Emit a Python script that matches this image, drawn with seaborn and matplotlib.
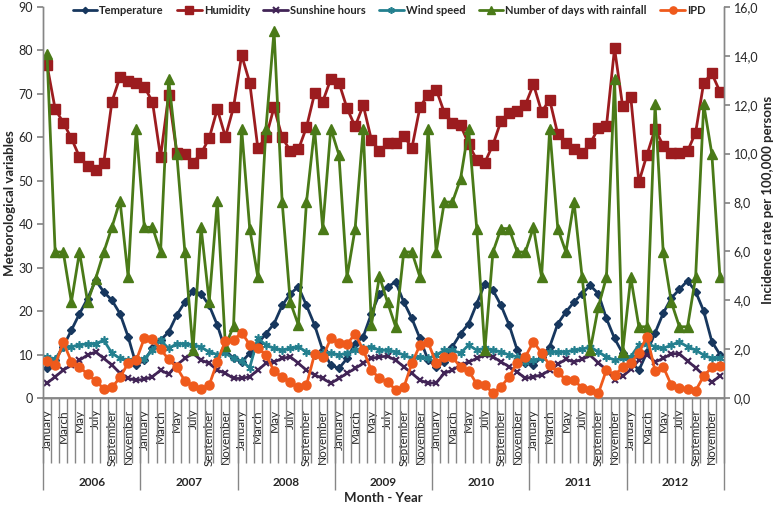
import numpy as np
import pandas as pd
import matplotlib
matplotlib.use("Agg")
import matplotlib.pyplot as plt
import seaborn as sns

# ---- data (monthly, 2006-2012) ----
years = ["2006", "2007", "2008", "2009", "2010", "2011", "2012"]
month_names = ["January", "February", "March", "April", "May", "June",
               "July", "August", "September", "October", "November", "December"]

temperature = [
    6.8, 8.7, 11.8, 15.6, 19.4, 22.9, 27.1, 24.4, 22.5, 19.4, 14.1, 7.6,
    8.7, 11.4, 13.3, 15.2, 19.1, 22.1, 24.6, 24.0, 21.3, 16.8, 11.0, 9.1,
    8.3, 10.3, 12.5, 14.8, 17.1, 21.3, 24.0, 25.6, 21.3, 16.8, 11.0, 7.6,
    6.8, 9.1, 12.5, 14.1, 19.4, 24.0, 25.6, 26.7, 22.1, 18.3, 13.7, 8.7,
    7.2, 8.3, 11.8, 14.8, 17.1, 21.7, 26.3, 24.8, 21.3, 16.8, 11.0, 8.0,
    7.6, 9.5, 11.8, 17.1, 19.8, 22.1, 24.0, 25.9, 24.0, 18.3, 13.7, 10.3,
    8.5, 6.4, 10.5, 15.0, 19.5, 23.0, 25.0, 27.0, 24.5, 20.0, 13.0, 10.0,
]
humidity = [
    76.6, 66.5, 63.4, 59.8, 55.5, 53.5, 52.5, 54.2, 68.2, 73.9, 73.0, 72.4,
    71.6, 68.2, 55.5, 69.8, 56.5, 56.2, 54.2, 56.3, 59.8, 66.5, 60.1, 66.9,
    78.9, 72.6, 57.5, 60.0, 66.9, 60.0, 56.9, 57.2, 62.3, 70.1, 68.2, 73.4,
    72.6, 66.7, 62.5, 67.4, 59.5, 56.8, 58.6, 58.8, 60.4, 57.5, 67.0, 69.8,
    71.0, 65.7, 63.4, 62.8, 58.5, 54.8, 54.2, 58.3, 63.8, 65.7, 66.1, 67.5,
    72.2, 65.9, 68.6, 60.7, 58.8, 57.3, 56.3, 58.6, 62.1, 62.6, 80.5, 67.1,
    69.3, 49.7, 56.0, 61.9, 58.1, 56.3, 56.5, 56.8, 61.1, 72.6, 74.7, 70.5,
]
sunshine = [
    3.4, 4.9, 6.4, 7.6, 8.7, 9.9, 10.6, 9.1, 7.6, 5.7, 4.5, 4.1,
    4.3, 4.9, 6.4, 5.5, 7.6, 9.1, 10.3, 8.7, 8.0, 6.4, 5.7, 4.5,
    4.5, 4.9, 6.4, 8.0, 8.3, 9.1, 9.5, 8.0, 6.4, 5.3, 4.5, 3.4,
    4.5, 5.7, 6.8, 8.0, 9.1, 9.5, 9.6, 8.7, 7.2, 5.7, 4.1, 3.4,
    3.5, 5.7, 6.4, 7.6, 8.3, 9.1, 9.9, 9.5, 8.3, 7.2, 6.0, 4.5,
    4.9, 5.3, 6.4, 7.8, 8.9, 8.3, 8.9, 9.8, 8.1, 6.5, 4.2, 5.0,
    6.6, 8.7, 10.0, 8.3, 9.1, 10.2, 10.2, 8.5, 7.0, 5.2, 3.6, 5.1,
]
wind_speed = [
    9.5, 8.9, 11.8, 11.8, 12.2, 12.5, 12.5, 13.3, 10.3, 9.1, 8.7, 8.9,
    9.0, 11.0, 13.3, 11.4, 12.5, 12.5, 12.2, 11.7, 10.6, 10.0, 10.3, 9.1,
    8.5, 7.0, 13.7, 12.2, 11.4, 11.0, 11.4, 11.8, 10.6, 9.9, 10.3, 10.3,
    9.9, 10.3, 11.0, 11.4, 11.8, 11.0, 11.0, 10.6, 9.9, 9.1, 9.5, 9.1,
    9.9, 11.0, 11.0, 10.3, 12.2, 11.0, 11.4, 11.0, 10.6, 9.9, 9.5, 8.3,
    8.7, 9.1, 10.6, 10.6, 10.6, 11.0, 11.2, 11.8, 10.6, 9.5, 8.7, 9.1,
    9.5, 12.2, 12.5, 11.8, 11.4, 12.2, 12.9, 11.8, 11.0, 9.9, 9.1, 9.1,
]
rainfall_days = [
    79.1, 33.6, 33.6, 22.1, 33.6, 22.1, 27.5, 33.6, 39.3, 45.4, 27.9, 61.9,
    39.3, 39.3, 33.6, 73.4, 56.2, 33.6, 11.0, 39.3, 22.1, 45.4, 12.0, 16.5,
    62.0, 39.0, 27.8, 62.0, 84.5, 45.1, 22.1, 16.8, 45.1, 62.0, 39.0, 62.0,
    56.0, 27.8, 39.0, 62.0, 16.8, 28.0, 22.0, 16.4, 33.6, 33.6, 27.8, 62.0,
    33.6, 45.1, 45.1, 50.4, 62.0, 39.0, 11.0, 33.6, 39.0, 39.0, 33.6, 33.6,
    39.3, 27.8, 62.0, 39.0, 33.6, 45.1, 27.8, 11.0, 21.0, 27.8, 73.4, 10.6,
    27.8, 16.4, 16.4, 67.6, 33.6, 22.1, 16.4, 16.4, 27.8, 67.6, 56.2, 27.8,
]
ipd = [
    1.52, 1.35, 2.28, 1.49, 1.28, 0.97, 0.70, 0.38, 0.43, 0.84, 1.43, 1.54,
    2.45, 2.40, 2.00, 1.58, 1.25, 0.70, 0.50, 0.38, 0.53, 1.48, 2.34, 2.37,
    2.68, 2.18, 2.03, 1.78, 1.10, 0.85, 0.65, 0.43, 0.53, 1.80, 1.67, 2.44,
    2.24, 2.20, 2.63, 1.96, 1.15, 0.80, 0.67, 0.33, 0.43, 1.42, 2.17, 2.28,
    1.42, 1.69, 1.69, 1.25, 1.12, 0.57, 0.53, 0.20, 0.46, 0.87, 1.45, 1.69,
    2.31, 1.83, 1.35, 1.06, 0.74, 0.74, 0.40, 0.33, 0.19, 1.15, 0.94, 1.25,
    1.42, 1.86, 2.51, 1.12, 1.28, 0.53, 0.40, 0.36, 0.30, 0.90, 1.25, 1.32,
]

n = len(years) * 12
df = pd.DataFrame({
    "idx": np.arange(n),
    "Temperature": temperature,
    "Humidity": humidity,
    "Sunshine hours": sunshine,
    "Wind speed": wind_speed,
    "Number of days with rainfall": rainfall_days,
    "IPD": ipd,
})

sns.set_theme(style="ticks")
plt.rcParams["font.family"] = ["Lato", "DejaVu Sans"]
grey = "#868686"

fig = plt.figure(figsize=(7.78, 5.07), dpi=100)
ax = fig.add_axes([43 / 778, 109 / 507, 681 / 778, 391 / 507])
ax2 = ax.twinx()

# series styling: colour, marker, marker size, edge width
styles = {
    "Temperature": ("#17375E", "D", 4, 1),
    "Humidity": ("#9C1C1F", "s", 6.5, 1),
    "Sunshine hours": ("#412456", "x", 5, 1.5),
    "Wind speed": ("#24808F", (6, 2, 0), 6, 1.2),
    "Number of days with rainfall": ("#4A7A18", "^", 6.5, 1),
}
for z, (name, (col, mk, ms, mew)) in enumerate(styles.items()):
    sns.lineplot(data=df, x="idx", y=name, ax=ax, color=col, marker=mk,
                 markersize=ms, markeredgecolor=col, markerfacecolor=col,
                 markeredgewidth=mew, linewidth=2, label=name, zorder=3 + z)

sns.lineplot(data=df, x="idx", y="IPD", ax=ax2, color="#EF5A1C", marker="o",
             markersize=6.5, markeredgecolor="#EF5A1C", markeredgewidth=1,
             linewidth=2, label="IPD", zorder=10)

# left axis
ax.set_ylim(0, 90)
ax.set_yticks(np.arange(0, 91, 10))
ax.set_ylabel("")
ax.tick_params(axis="y", length=4, color=grey, labelsize=9, pad=3)

# right axis
ax2.set_ylim(0, 16)
r_ticks = np.arange(0, 17, 2)
ax2.set_yticks(r_ticks)
ax2.set_yticklabels([f"{v:.1f}".replace(".", ",") for v in r_ticks])
ax2.set_ylabel("")
ax2.tick_params(axis="y", length=4, color=grey, labelsize=9, pad=3)

for a in (ax, ax2):
    a.spines["top"].set_visible(False)
    for s in ("left", "right", "bottom"):
        a.spines[s].set_color(grey)
        a.spines[s].set_linewidth(1)
    if a.get_legend():
        a.get_legend().remove()

# month level of the category axis
ax.set_xlim(-0.5, n - 0.5)
ax.set_xlabel("")
ax.set_xticks(np.arange(n))
ax.set_xticklabels([month_names[k % 12] if k % 2 == 0 else "" for k in range(n)],
                   rotation=90)
ax.tick_params(axis="x", which="major", length=0, pad=8, labelsize=8.5)
ax.set_xticks(np.arange(-0.5, n, 1), minor=True)
ax.tick_params(axis="x", which="minor", length=47, width=1, color=grey)

# year level
sec = ax.secondary_xaxis("bottom")
year_edges = np.arange(-0.5, n, 12)
sec.set_xticks(year_edges, labels=[""] * len(year_edges))
sec.set_xticks(np.arange(5.5, n, 12), labels=years, minor=True)
sec.tick_params(which="major", length=66, width=1, color=grey)
sec.tick_params(which="minor", length=0, pad=57, labelsize=8.5)
sec.spines["bottom"].set_color(grey)
for t in sec.get_xticklabels(minor=True):
    t.set_fontweight("bold")

fig.text(383.5 / 778, 1 - 498 / 507, "Month - Year", ha="center", va="center",
         fontsize=9.5, fontweight="bold")
fig.text(10 / 778, 1 - 203 / 507, "Meteorological variables", rotation=90,
         ha="center", va="center", fontsize=9.5, fontweight="bold")
fig.text(768 / 778, 1 - 200 / 507, "Incidence rate per 100,000 persons",
         rotation=90, ha="center", va="center", fontsize=9.5, fontweight="bold")

h1, l1 = ax.get_legend_handles_labels()
h2, l2 = ax2.get_legend_handles_labels()
fig.legend(h1 + h2, l1 + l2, loc="center", bbox_to_anchor=(389 / 778, 1 - 10 / 507),
           ncol=6, frameon=False, prop={"weight": "bold", "size": 8},
           handlelength=2.2, handletextpad=0.2, columnspacing=1.2,
           markerscale=0.8)

fig.savefig("out.png", dpi=100)
